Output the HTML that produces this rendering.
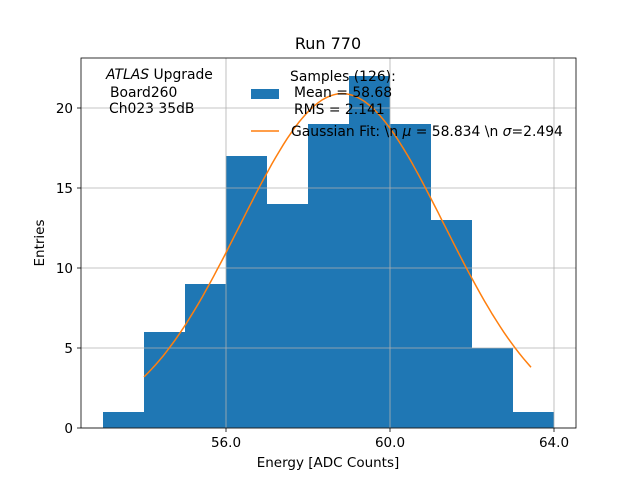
<!DOCTYPE html>
<html><head><meta charset="utf-8"><style>
body{margin:0;background:#fff}
svg{display:block;font-family:"DejaVu Sans","Liberation Sans",sans-serif}
</style></head><body>
<svg id="c" width="640" height="480">
<rect width="640" height="480" fill="#fff"/>
<g id="bars"></g>
<g id="grid"></g>
<path id="fit" fill="none" stroke="#ff7f0e" stroke-width="1.5"/>
<rect x="81" y="58" width="495" height="370" fill="none" stroke="#000" stroke-width="0.8"/>
<g id="ticks" font-size="13.5"></g>
<text x="328" y="49" text-anchor="middle" font-size="16">Run 770</text>
<text x="328" y="467" text-anchor="middle" font-size="13.5">Energy [ADC Counts]</text>
<text transform="translate(44,243) rotate(-90)" text-anchor="middle" font-size="13.5">Entries</text>
<g font-size="13.9">
<text x="106" y="79"><tspan font-style="italic">ATLAS</tspan> Upgrade</text>
<text x="110" y="97">Board260</text>
<text x="109" y="113">Ch023 35dB</text>
</g>
<g font-size="13.9">
<text x="290" y="81">Samples (126):</text>
<rect x="251" y="89" width="28" height="10" fill="#1f77b4"/>
<text x="294" y="97">Mean = 58.68</text>
<text x="294" y="114">RMS = 2.141</text>
<line x1="251" y1="131" x2="279" y2="131" stroke="#ff7f0e" stroke-width="1.5"/>
<text x="291" y="136">Gaussian Fit: \n <tspan font-style="italic">μ</tspan> = 58.834 \n <tspan font-style="italic">σ</tspan>=2.494</text>
</g>
</svg>
<script>
const binEdges=[53,54,55,56,57,58,59,60,61,62,63,64];
const counts=[1,6,9,17,14,19,22,19,13,5,1];
const xTicks=[56,60,64];
const xTickLabels=["56.0","60.0","64.0"];
const yTicks=[0,5,10,15,20];
const fitMu=58.834, fitSigma=2.494, fitAmp=20.9, fitStart=54, fitEnd=63.44;
const X=v=>226+(v-56)*41;
const Y=v=>428-v*16;
const NS="http://www.w3.org/2000/svg";
function mk(t,a,p){const e=document.createElementNS(NS,t);for(const k in a)e.setAttribute(k,a[k]);p.appendChild(e);return e;}
const bars=document.getElementById('bars');
counts.forEach((c,i)=>{
 const r=mk('rect',{x:X(binEdges[i]),y:Y(c),width:X(binEdges[i+1])-X(binEdges[i]),height:Y(0)-Y(c),fill:'#1f77b4'},bars);
 
 
});
const grid=document.getElementById('grid'), ticks=document.getElementById('ticks');
xTicks.forEach((v,i)=>{
 const g=mk('line',{x1:X(v),x2:X(v),y1:58,y2:428,stroke:'#b0b0b0','stroke-width':0.8},grid);
 
 
 mk('line',{x1:X(v),x2:X(v),y1:428,y2:432,stroke:'#000','stroke-width':0.8},ticks);
 const t=mk('text',{x:X(v),y:447,'text-anchor':'middle'},ticks);t.textContent=xTickLabels[i];
 
 
});
yTicks.forEach(v=>{
 const g=mk('line',{x1:81,x2:576,y1:Y(v),y2:Y(v),stroke:'#b0b0b0','stroke-width':0.8},grid);
 
 
 mk('line',{x1:77,x2:81,y1:Y(v),y2:Y(v),stroke:'#000','stroke-width':0.8},ticks);
 const t=mk('text',{x:73,y:Y(v)+5,'text-anchor':'end'},ticks);t.textContent=v;
 
 
});
let d='';
for(let i=0;i<=100;i++){const x=fitStart+(fitEnd-fitStart)*i/100;const y=fitAmp*Math.exp(-((x-fitMu)**2)/(2*fitSigma*fitSigma));d+=(i?'L':'M')+X(x).toFixed(1)+','+Y(y).toFixed(1);}
document.getElementById('fit').setAttribute('d',d);
</script>
</body></html>
